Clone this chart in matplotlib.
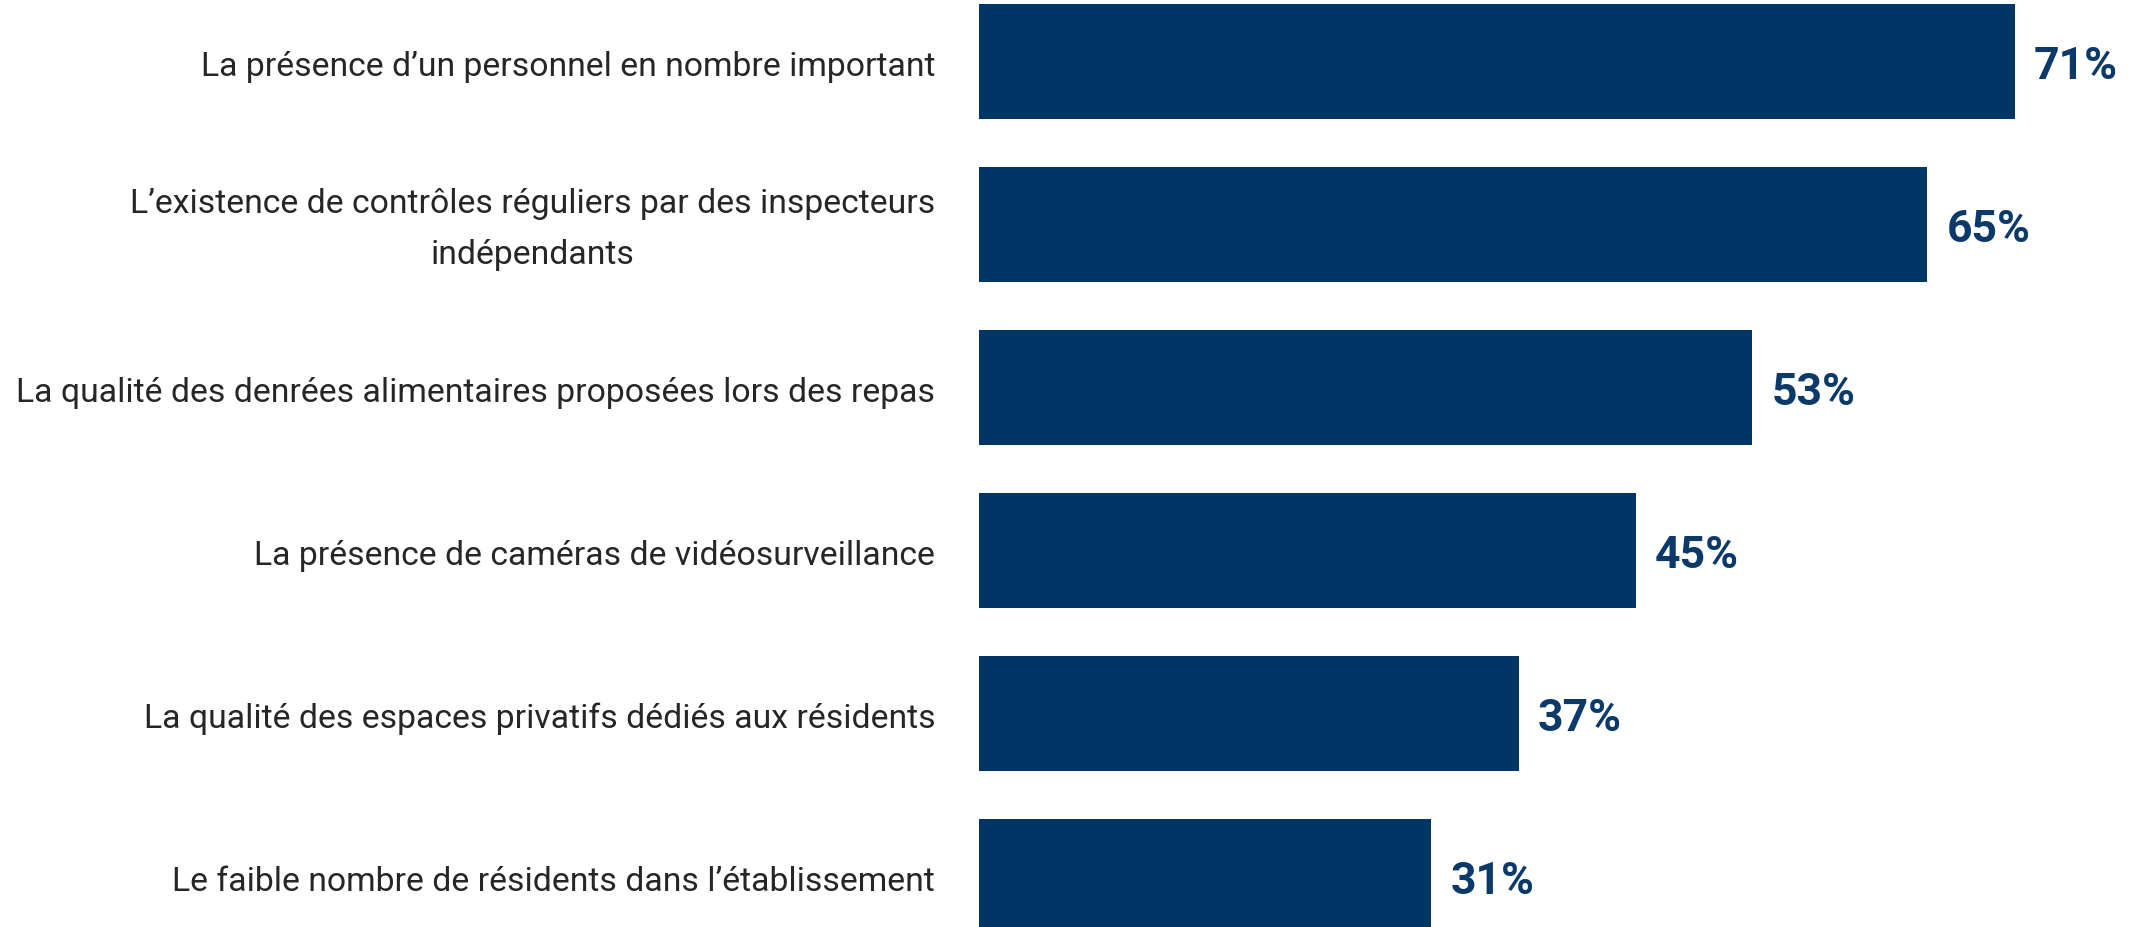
import matplotlib
matplotlib.use("Agg")
import matplotlib.pyplot as plt

categories = [
    "La présence d\u2019un personnel en nombre important",
    "L\u2019existence de contrôles réguliers par des inspecteurs\nindépendants",
    "La qualité des denrées alimentaires proposées lors des repas",
    "La présence de caméras de vidéosurveillance",
    "La qualité des espaces privatifs dédiés aux résidents",
    "Le faible nombre de résidents dans l\u2019établissement",
]
values = [71, 65, 53, 45, 37, 31]

bar_color = "#003566"
label_font = ["Roboto", "DejaVu Sans"]

fig = plt.figure(figsize=(21.31, 9.28), dpi=100)
ax = fig.add_axes([979 / 2131, 0, 1 - 979 / 2131, 1])

ypos = list(range(len(categories)))
ax.barh(ypos, values, height=0.705, color=bar_color)

ax.set_xlim(0, 78.96)
ax.set_ylim(5.31, -0.383)
ax.axis("off")

# petit decalage vers le bas pour centrer le texte sur les barres
for y, cat, v in zip(ypos, categories, values):
    ax.text(-3.0, y + 0.025, cat, ha="right", va="center", multialignment="center",
            fontsize=24.3, color="#262626", family=label_font, linespacing=1.75)
    ax.text(v + 1.3, y + 0.025, f"{v}%", ha="left", va="center", fontsize=32,
            fontweight="bold", color="#0B3A6A", family=label_font)

fig.savefig("out.png", dpi=100)
